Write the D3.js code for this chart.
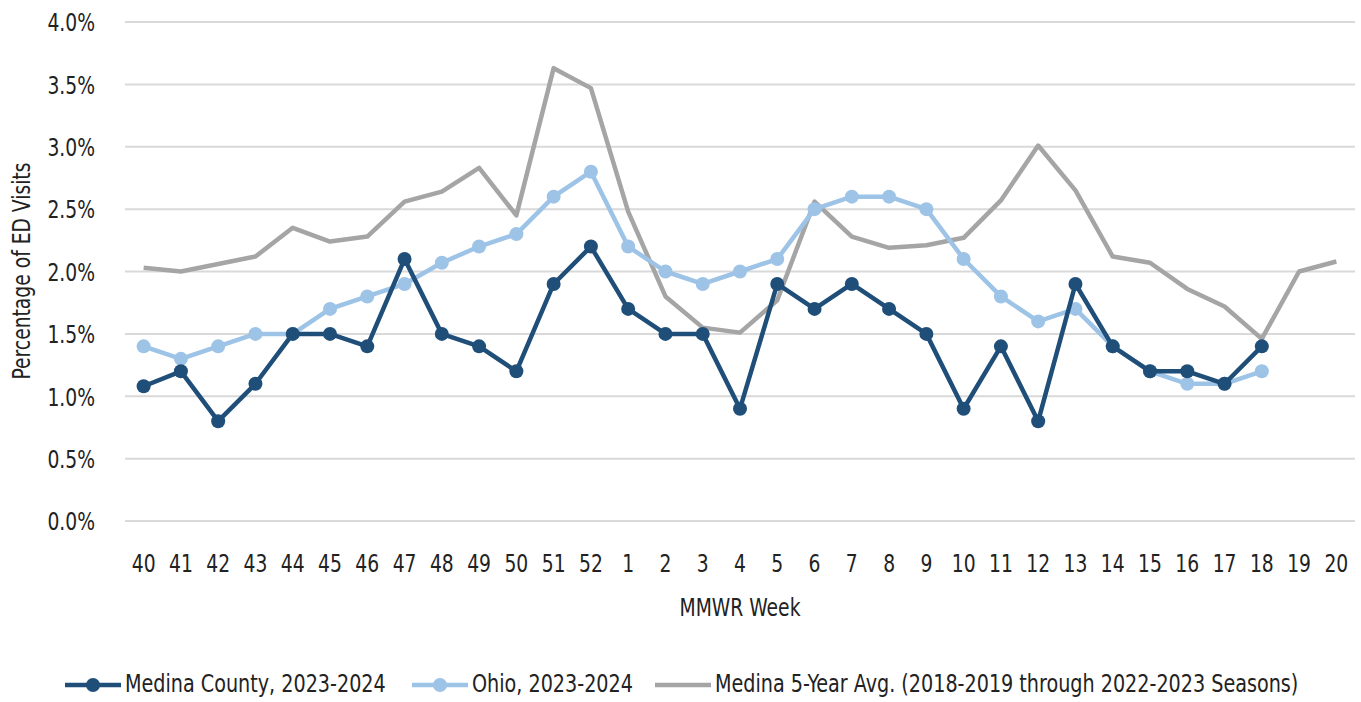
<!DOCTYPE html>
<html><head><meta charset="utf-8">
<script src="https://cdn.jsdelivr.net/npm/d3@7"></script>
<style>
body{margin:0;background:#fff;}
text{font-family:"DejaVu Sans Condensed","DejaVu Sans",sans-serif;font-stretch:condensed;fill:#222;}
</style></head><body>
<svg id="c" width="1361" height="702"></svg>
<script>
const weeks = ["40","41","42","43","44","45","46","47","48","49","50","51","52","1","2","3","4","5","6","7","8","9","10","11","12","13","14","15","16","17","18","19","20"];
const medina = [1.08,1.2,0.8,1.1,1.5,1.5,1.4,2.1,1.5,1.4,1.2,1.9,2.2,1.7,1.5,1.5,0.9,1.9,1.7,1.9,1.7,1.5,0.9,1.4,0.8,1.9,1.4,1.2,1.2,1.1,1.4];
const ohio = [1.4,1.3,1.4,1.5,1.5,1.7,1.8,1.9,2.07,2.2,2.3,2.6,2.8,2.2,2.0,1.9,2.0,2.1,2.5,2.6,2.6,2.5,2.1,1.8,1.6,1.7,1.4,1.2,1.1,1.1,1.2];
const avg5 = [2.03,2.0,2.06,2.12,2.35,2.24,2.28,2.56,2.64,2.83,2.45,3.63,3.47,2.48,1.8,1.55,1.51,1.77,2.56,2.28,2.19,2.21,2.27,2.57,3.01,2.65,2.12,2.07,1.86,1.72,1.46,2.0,2.08];
const yTicks = [0,0.5,1.0,1.5,2.0,2.5,3.0,3.5,4.0];
const seriesNames = ["Medina County, 2023-2024","Ohio, 2023-2024","Medina 5-Year Avg. (2018-2019 through 2022-2023 Seasons)"];

const FS = 24.5, SX = 0.85, SXL = 0.87;
const svg = d3.select("#c");
const x = d3.scaleBand().domain(weeks).range([125,1355]);
const y = d3.scaleLinear().domain([0,4]).range([521,22]);
const cx = d => x(d)+x.bandwidth()/2;

// gridlines
svg.append("g").selectAll("line").data(yTicks).join("line")
  .attr("x1",125).attr("x2",1355).attr("y1",d=>y(d)).attr("y2",d=>y(d))
  .attr("stroke","#d9d9d9").attr("stroke-width",2);

// y axis labels
const yAxis = d3.axisLeft(y).tickValues(yTicks).tickFormat(d=>d.toFixed(1)+"%").tickSize(0).tickPadding(0);
const ya = svg.append("g").attr("transform","translate(95,0)").call(yAxis);
ya.select(".domain").remove();
ya.selectAll("text").attr("font-size",FS).attr("font-family",null).attr("fill","#222")
  .attr("dy","0.36em").attr("transform",`scale(${SX},1)`);

// x axis labels
const xAxis = d3.axisBottom(x).tickSize(0).tickPadding(0);
const xa = svg.append("g").attr("transform","translate(0,572)").call(xAxis);
xa.select(".domain").remove();
xa.selectAll("text").attr("font-size",FS).attr("font-family",null).attr("fill","#222")
  .attr("dy",0).attr("y",0).attr("transform",`scale(${SX},1)`);

// axis titles
svg.append("text").attr("transform",`translate(30,271) rotate(-90) scale(${SX},1)`).attr("text-anchor","middle")
  .attr("font-size",FS).text("Percentage of ED Visits");
svg.append("text").attr("transform",`translate(740,616) scale(${SX},1)`).attr("text-anchor","middle")
  .attr("font-size",FS).text("MMWR Week");

const line = d3.line().x((d,i)=>cx(weeks[i])).y(d=>y(d));

function drawSeries(data,color,markers){
  svg.append("path").datum(data).attr("d",line).attr("fill","none")
    .attr("stroke",color).attr("stroke-width",4.5).attr("stroke-linejoin","round");
  if(markers){
    svg.append("g").selectAll("circle").data(data).join("circle")
      .attr("cx",(d,i)=>cx(weeks[i])).attr("cy",d=>y(d)).attr("r",7).attr("fill",color);
  }
}
const colors = ["#1f4e79","#9dc3e6","#a5a5a5"];
drawSeries(avg5,colors[2],false);
drawSeries(ohio,colors[1],true);
drawSeries(medina,colors[0],true);

// legend
const leg = [{x:65,c:colors[0],m:true},{x:412,c:colors[1],m:true},{x:655,c:colors[2],m:false}];
leg.forEach((l,i)=>{
  const g = svg.append("g");
  g.append("line").attr("x1",l.x).attr("x2",l.x+56).attr("y1",685).attr("y2",685)
    .attr("stroke",l.c).attr("stroke-width",4.5);
  if(l.m) g.append("circle").attr("cx",l.x+28).attr("cy",685).attr("r",7).attr("fill",l.c);
  g.append("text").attr("transform",`translate(${l.x+60},692) scale(${SXL},1)`).attr("font-size",FS).text(seriesNames[i]);
});
</script></body></html>
